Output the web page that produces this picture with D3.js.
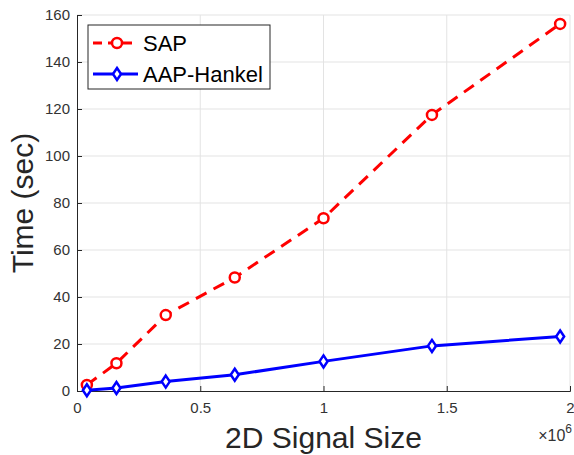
<!DOCTYPE html>
<html>
<head>
<meta charset="utf-8">
<script src="https://cdn.jsdelivr.net/npm/d3@7"></script>
<style>
  body { margin: 0; background: #fff; }
  svg { font-family: "Liberation Sans", Arial, sans-serif; }
</style>
</head>
<body>
<div id="chart"></div>
<script>
const sizes = [0.04e6, 0.16e6, 0.36e6, 0.64e6, 1.0e6, 1.44e6, 1.96e6];
const sapTimes = [2.6, 11.8, 32.3, 48.3, 73.5, 117.5, 156.2];
const hankelTimes = [0.3, 1.3, 4.0, 6.9, 12.6, 19.2, 23.2];
const xTicks = [0, 0.5e6, 1e6, 1.5e6, 2e6];
const yTicks = [0, 20, 40, 60, 80, 100, 120, 140, 160];

const width = 574, height = 455;
const margin = { top: 15, right: 4, bottom: 64, left: 77 };
const innerW = width - margin.left - margin.right,
      innerH = height - margin.top - margin.bottom;

const svg = d3.select("#chart").append("svg")
    .attr("width", width)
    .attr("height", height);

const g = svg.append("g")
    .attr("transform", `translate(${margin.left},${margin.top})`);

const x = d3.scaleLinear().domain([0, 2e6]).range([0, innerW]);
const y = d3.scaleLinear().domain([0, 160]).range([innerH, 0]);

// grid
g.append("g").selectAll("line.gx")
    .data(xTicks.slice(1))
    .enter().append("line")
    .attr("x1", d => x(d)).attr("x2", d => x(d))
    .attr("y1", 0).attr("y2", innerH)
    .style("stroke", "#e3e3e3").style("stroke-width", 1);

g.append("g").selectAll("line.gy")
    .data(yTicks.slice(1))
    .enter().append("line")
    .attr("x1", 0).attr("x2", innerW)
    .attr("y1", d => y(d)).attr("y2", d => y(d))
    .style("stroke", "#e3e3e3").style("stroke-width", 1);

// axes
const xAxis = d3.axisBottom(x).tickValues(xTicks)
    .tickSize(-5).tickPadding(11)
    .tickFormat(d => d === 0 ? "0" : d3.format("~g")(d / 1e6));
const yAxis = d3.axisLeft(y).tickValues(yTicks)
    .tickSize(-5).tickPadding(7);

const gx = g.append("g")
    .attr("transform", `translate(0,${innerH})`)
    .call(xAxis);
const gy = g.append("g").call(yAxis);

[gx, gy].forEach(a => {
    a.select(".domain").attr("stroke", "#262626").attr("stroke-width", 1);
    a.selectAll(".tick line").attr("stroke", "#262626");
    a.selectAll(".tick text")
        .attr("fill", "#333")
        .style("font-size", "15px")
        .style("font-family", "Liberation Sans, Arial, sans-serif");
});

// exponent label
svg.append("text")
    .attr("x", 572).attr("y", 441)
    .attr("text-anchor", "end")
    .attr("fill", "#333")
    .style("font-size", "16px")
    .html("×10<tspan dy='-8' style='font-size:12px'>6</tspan>");

// axis titles
svg.append("text")
    .attr("x", margin.left + innerW / 2)
    .attr("y", 448)
    .attr("text-anchor", "middle")
    .attr("fill", "#262626")
    .style("font-size", "30px")
    .text("2D Signal Size");

svg.append("text")
    .attr("transform", `translate(33,${margin.top + innerH / 2}) rotate(-90)`)
    .attr("text-anchor", "middle")
    .attr("fill", "#262626")
    .style("font-size", "30px")
    .text("Time (sec)");

const series = [
    { name: "SAP", values: sapTimes, color: "#ff0000", dash: "12,8", marker: "circle" },
    { name: "AAP-Hankel", values: hankelTimes, color: "#0000ff", dash: null, marker: "diamond" }
];

const line = d3.line()
    .x((d, i) => x(sizes[i]))
    .y(d => y(d));

const diamond = "M0,-6L4,0L0,6L-4,0Z";

function drawMarker(sel, s) {
    if (s.marker === "circle") {
        sel.append("circle").attr("r", 5);
    } else {
        sel.append("path").attr("d", diamond);
    }
    sel.selectAll("circle,path")
        .style("fill", "#fff")
        .style("stroke", s.color)
        .style("stroke-width", 2.5);
}

series.forEach(s => {
    g.append("path")
        .datum(s.values)
        .attr("d", line)
        .style("fill", "none")
        .style("stroke", s.color)
        .style("stroke-width", 3)
        .style("stroke-dasharray", s.dash);

    g.selectAll(`.m-${s.marker}`)
        .data(s.values)
        .enter().append("g")
        .attr("class", `m-${s.marker}`)
        .attr("transform", (d, i) => `translate(${x(sizes[i])},${y(d)})`)
        .each(function() { drawMarker(d3.select(this), s); });
});

// legend
const legend = svg.append("g").attr("transform", "translate(88,25)");
legend.append("rect")
    .attr("width", 182).attr("height", 64)
    .style("fill", "#fff")
    .style("stroke", "#262626")
    .style("stroke-width", 1);

const items = legend.selectAll(".legend")
    .data(series)
    .enter().append("g")
    .attr("class", "legend")
    .attr("transform", (d, i) => `translate(0,${18 + i * 31})`);

items.append("line")
    .attr("x1", 5).attr("x2", 50)
    .style("stroke", d => d.color)
    .style("stroke-width", 3)
    .style("stroke-dasharray", d => d.dash ? "9,6" : null);

items.each(function(d) {
    const m = d3.select(this).append("g").attr("transform", "translate(29,0)");
    drawMarker(m, d);
});

items.append("text")
    .attr("x", 55)
    .attr("dy", "0.36em")
    .attr("fill", "#000")
    .style("font-size", "22px")
    .text(d => d.name);
</script>
</body>
</html>
